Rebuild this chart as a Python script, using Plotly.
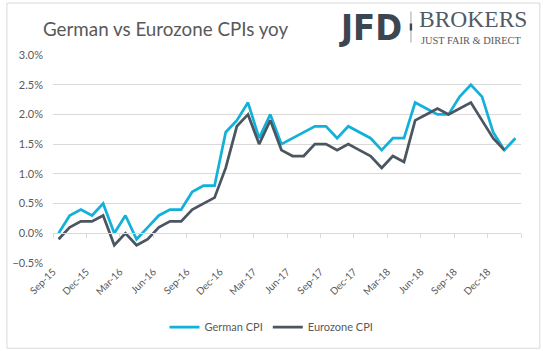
import plotly.graph_objects as go

# ---- data ----
months = ["Sep-15","Oct-15","Nov-15","Dec-15","Jan-16","Feb-16","Mar-16","Apr-16","May-16","Jun-16",
          "Jul-16","Aug-16","Sep-16","Oct-16","Nov-16","Dec-16","Jan-17","Feb-17","Mar-17","Apr-17",
          "May-17","Jun-17","Jul-17","Aug-17","Sep-17","Oct-17","Nov-17","Dec-17","Jan-18","Feb-18",
          "Mar-18","Apr-18","May-18","Jun-18","Jul-18","Aug-18","Sep-18","Oct-18","Nov-18","Dec-18",
          "Jan-19","Feb-19"]
german_cpi = [0.0, 0.3, 0.4, 0.3, 0.5, 0.0, 0.3, -0.1, 0.1, 0.3,
              0.4, 0.4, 0.7, 0.8, 0.8, 1.7, 1.9, 2.2, 1.6, 2.0,
              1.5, 1.6, 1.7, 1.8, 1.8, 1.6, 1.8, 1.7, 1.6, 1.4,
              1.6, 1.6, 2.2, 2.1, 2.0, 2.0, 2.3, 2.5, 2.3, 1.7,
              1.4, 1.6]
eurozone_cpi = [-0.1, 0.1, 0.2, 0.2, 0.3, -0.2, 0.0, -0.2, -0.1, 0.1,
                0.2, 0.2, 0.4, 0.5, 0.6, 1.1, 1.8, 2.0, 1.5, 1.9,
                1.4, 1.3, 1.3, 1.5, 1.5, 1.4, 1.5, 1.4, 1.3, 1.1,
                1.3, 1.2, 1.9, 2.0, 2.1, 2.0, 2.1, 2.2, 1.9, 1.6,
                1.4]
tick_labels = ["Sep-15","Dec-15","Mar-16","Jun-16","Sep-16","Dec-16","Mar-17",
               "Jun-17","Sep-17","Dec-17","Mar-18","Jun-18","Sep-18","Dec-18"]

# ---- layout geometry (pixels) ----
W, H = 543, 351
L, R, T, B = 49, 521, 54.5, 262.7
YMIN, YMAX = -0.5, 3.0
FONT = "Lato, 'Open Sans', sans-serif"
GREY = "#595959"
GRID = "#d9d9d9"

def px2x(px):
    return (px - L) / (R - L)

def py2y(py):
    return (B - py) / (B - T)

idx_g = list(range(len(german_cpi)))
idx_e = list(range(len(eurozone_cpi)))
n = len(months)
boundary_ticks = [-0.5 + 3 * k for k in range(len(tick_labels))]
all_boundaries = [-0.5 + 3 * k for k in range(n // 3 + 1)]

fig = go.Figure()
fig.add_trace(go.Scatter(x=idx_g, y=german_cpi, mode="lines", name="German CPI",
                         text=months[:len(german_cpi)],
                         line=dict(color="#13b1d9", width=2.75)))
fig.add_trace(go.Scatter(x=idx_e, y=eurozone_cpi, mode="lines", name="Eurozone CPI",
                         text=months[:len(eurozone_cpi)],
                         line=dict(color="#4b5661", width=2.75)))

fig.update_layout(
    width=W, height=H,
    margin=dict(l=L, r=W - R, t=T, b=H - B),
    paper_bgcolor="white", plot_bgcolor="white",
    font=dict(family=FONT, color=GREY, size=11),
    showlegend=True,
    legend=dict(orientation="h", xref="container", yref="container",
                x=0.5, xanchor="center", y=1 - 327 / H, yanchor="middle",
                font=dict(size=11, color=GREY), itemwidth=30,
                bgcolor="rgba(0,0,0,0)"),
    xaxis=dict(range=[-0.5, n - 0.5], tickmode="array", tickvals=boundary_ticks,
               ticktext=tick_labels, tickangle=-45, ticks="", showgrid=False,
               zeroline=False, showline=False, tickfont=dict(size=10, color=GREY)),
    xaxis2=dict(range=[-0.5, n - 0.5], overlaying="x", anchor="free",
                position=(0 - YMIN) / (YMAX - YMIN), side="bottom",
                tickmode="array", tickvals=all_boundaries, ticks="outside",
                ticklen=4, tickcolor=GRID, showline=True, linecolor=GRID,
                showticklabels=False, showgrid=False, zeroline=False),
    yaxis=dict(range=[YMIN, YMAX], dtick=0.5, tick0=0, tickformat=".1f",
               ticksuffix="%", showgrid=True, gridcolor=GRID, gridwidth=1,
               zeroline=False, showline=False, ticklabelstandoff=9,
               tickfont=dict(size=11, color=GREY)),
)

# empty placeholder so the overlay axis at zero is drawn
fig.add_trace(go.Scatter(x=[], y=[], xaxis="x2", showlegend=False, hoverinfo="skip"))

annotations = [
    dict(text="German vs Eurozone CPIs yoy", x=px2x(37), y=py2y(28), xanchor="left",
         yanchor="middle", font=dict(size=18.8, color=GREY, family=FONT)),
    dict(text="<b>JFD</b>", x=px2x(403), y=py2y(27), xanchor="right", yanchor="middle",
         font=dict(size=36, color="#3b4651", family="'DejaVu Sans Condensed', 'DejaVu Sans', sans-serif")),
    dict(text="BROKERS", x=px2x(417), y=py2y(32.5), xanchor="left", yanchor="bottom",
         font=dict(size=23.5, color="#525b65", family="'Liberation Serif', serif"), borderpad=0),
    dict(text="JUST FAIR &amp; DIRECT", x=px2x(419), y=py2y(33.5), xanchor="left", yanchor="top",
         font=dict(size=10.4, color="#525b65", family="'Liberation Serif', serif"), borderpad=0),
]
for a in annotations:
    a.update(xref="paper", yref="paper", showarrow=False)
fig.update_layout(annotations=annotations)

shapes = [
    # chart border
    dict(type="rect", x0=px2x(2.5), x1=px2x(540), y0=py2y(2.5), y1=py2y(348),
         line=dict(color=GRID, width=1), fillcolor="rgba(0,0,0,0)"),
    # logo separator
    dict(type="line", x0=px2x(410), x1=px2x(410), y0=py2y(11), y1=py2y(42),
         line=dict(color="#a0a4a8", width=1)),
    dict(type="rect", x0=px2x(408.8), x1=px2x(411.2), y0=py2y(23), y1=py2y(30),
         line=dict(width=0), fillcolor="#3b4651"),
]
for s in shapes:
    s.update(xref="paper", yref="paper", layer="above")
fig.update_layout(shapes=shapes)

fig.write_html("out.html")
